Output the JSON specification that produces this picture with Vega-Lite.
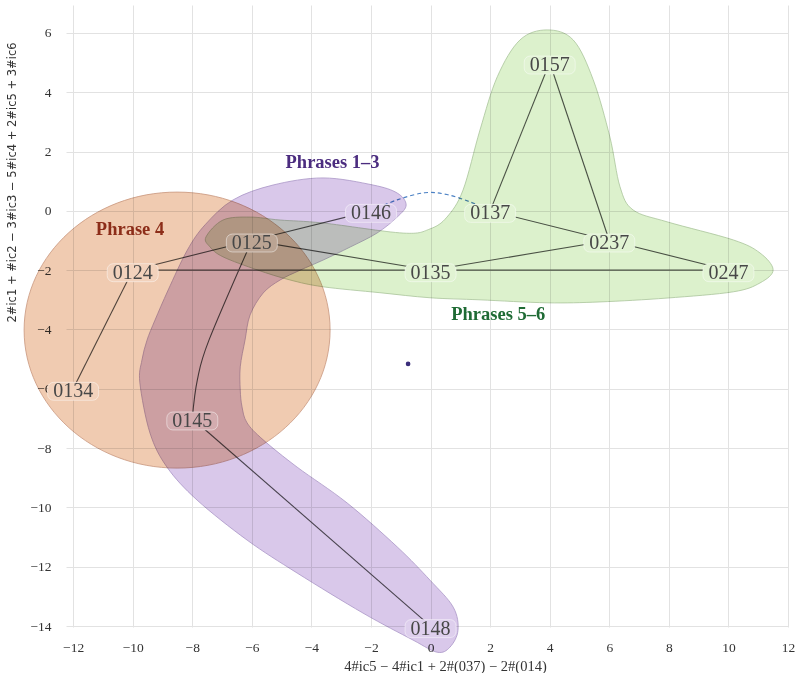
{
  "$schema": "https://vega.github.io/schema/vega-lite/v6.json",
  "width": 722,
  "height": 622,
  "autosize": {"type": "none"},
  "padding": {"left": 66, "top": 5, "right": 7, "bottom": 46},
  "background": "white",
  "config": {
    "view": {"stroke": null},
    "axis": {
      "labelFont": "Liberation Serif",
      "labelFontSize": 13.5,
      "labelColor": "#333333",
      "labelPadding": 15,
      "labelFlush": false,
      "ticks": false,
      "domain": false,
      "grid": true,
      "gridColor": "#e2e2e2",
      "gridWidth": 1,
      "titleColor": "#333333",
      "titleFontWeight": "normal"
    }
  },
  "datasets": {
    "nodes": [
      {"label": "0124", "x": -10, "y": -2},
      {"label": "0125", "x": -6, "y": -1},
      {"label": "0134", "x": -12, "y": -6},
      {"label": "0135", "x": 0, "y": -2},
      {"label": "0137", "x": 2, "y": 0},
      {"label": "0145", "x": -8, "y": -7},
      {"label": "0146", "x": -2, "y": 0},
      {"label": "0148", "x": 0, "y": -14},
      {"label": "0157", "x": 4, "y": 5},
      {"label": "0237", "x": 6, "y": -1},
      {"label": "0247", "x": 10, "y": -2}
    ],
    "edges": [
      {"e": "0124-0125", "o": 0, "x": -10, "y": -2}, {"e": "0124-0125", "o": 1, "x": -6, "y": -1},
      {"e": "0124-0135", "o": 0, "x": -10, "y": -2}, {"e": "0124-0135", "o": 1, "x": 0, "y": -2},
      {"e": "0124-0134", "o": 0, "x": -10, "y": -2}, {"e": "0124-0134", "o": 1, "x": -12, "y": -6},
      {"e": "0125-0146", "o": 0, "x": -6, "y": -1}, {"e": "0125-0146", "o": 1, "x": -2, "y": 0},
      {"e": "0125-0135", "o": 0, "x": -6, "y": -1}, {"e": "0125-0135", "o": 1, "x": 0, "y": -2},
      {"e": "0125-0145", "o": 0, "x": -6, "y": -1}, {"e": "0125-0145", "o": 1, "x": -7.44, "y": -4.36}, {"e": "0125-0145", "o": 2, "x": -7.83, "y": -5.7}, {"e": "0125-0145", "o": 3, "x": -8, "y": -7},
      {"e": "0145-0148", "o": 0, "x": -8, "y": -7}, {"e": "0145-0148", "o": 1, "x": 0, "y": -14},
      {"e": "0135-0237", "o": 0, "x": 0, "y": -2}, {"e": "0135-0237", "o": 1, "x": 6, "y": -1},
      {"e": "0135-0247", "o": 0, "x": 0, "y": -2}, {"e": "0135-0247", "o": 1, "x": 10, "y": -2},
      {"e": "0137-0237", "o": 0, "x": 2, "y": 0}, {"e": "0137-0237", "o": 1, "x": 6, "y": -1},
      {"e": "0137-0157", "o": 0, "x": 2, "y": 0}, {"e": "0137-0157", "o": 1, "x": 4, "y": 5},
      {"e": "0157-0237", "o": 0, "x": 4, "y": 5}, {"e": "0157-0237", "o": 1, "x": 6, "y": -1},
      {"e": "0237-0247", "o": 0, "x": 6, "y": -1}, {"e": "0237-0247", "o": 1, "x": 10, "y": -2}
    ],
    "arc": [
      {"o": 0, "x": -2, "y": 0},
      {"o": 1, "x": -1.12, "y": 0.37},
      {"o": 2, "x": -0.2, "y": 0.61},
      {"o": 3, "x": 0.55, "y": 0.55},
      {"o": 4, "x": 1.33, "y": 0.3},
      {"o": 5, "x": 2, "y": 0}
    ],
    "phrase4": [
      {"x": -8.51, "y": -4.02}
    ],
    "purple": [
      {"o": 1, "x": -6.63, "y": 0.37}, {"o": 2, "x": -5.29, "y": 0.87}, {"o": 3, "x": -3.61, "y": 1.11},
      {"o": 4, "x": -1.93, "y": 0.87}, {"o": 5, "x": -1.12, "y": 0.6}, {"o": 6, "x": -0.82, "y": 0.2},
      {"o": 7, "x": -1.12, "y": -0.21}, {"o": 8, "x": -1.8, "y": -0.75}, {"o": 9, "x": -2.7, "y": -1.22},
      {"o": 10, "x": -3.61, "y": -1.66}, {"o": 11, "x": -4.38, "y": -2.0}, {"o": 12, "x": -5.05, "y": -2.33},
      {"o": 13, "x": -5.62, "y": -2.77}, {"o": 14, "x": -6.06, "y": -3.51}, {"o": 15, "x": -6.23, "y": -4.36},
      {"o": 16, "x": -6.39, "y": -5.26}, {"o": 17, "x": -6.39, "y": -6.04}, {"o": 18, "x": -6.33, "y": -6.61},
      {"o": 19, "x": -6.16, "y": -7.15}, {"o": 20, "x": -5.62, "y": -7.72}, {"o": 21, "x": -4.48, "y": -8.64},
      {"o": 22, "x": -2.8, "y": -9.85}, {"o": 23, "x": -1.12, "y": -11.33}, {"o": 24, "x": -0.02, "y": -12.45},
      {"o": 25, "x": 0.76, "y": -13.36}, {"o": 26, "x": 0.92, "y": -14.14}, {"o": 27, "x": 0.65, "y": -14.71},
      {"o": 28, "x": 0.22, "y": -14.88}, {"o": 29, "x": -0.59, "y": -14.47}, {"o": 30, "x": -2.27, "y": -13.56},
      {"o": 31, "x": -4.48, "y": -12.21}, {"o": 32, "x": -6.16, "y": -11.1}, {"o": 33, "x": -7.84, "y": -9.75},
      {"o": 34, "x": -8.85, "y": -8.64}, {"o": 35, "x": -9.42, "y": -7.49}, {"o": 36, "x": -9.76, "y": -5.8},
      {"o": 37, "x": -9.69, "y": -5.03}, {"o": 38, "x": -9.52, "y": -4.36}, {"o": 39, "x": -9.25, "y": -3.68},
      {"o": 40, "x": -8.81, "y": -2.67}, {"o": 41, "x": -8.17, "y": -1.33}, {"o": 42, "x": -7.57, "y": -0.47}
    ],
    "green": [
      {"o": 1, "x": -7.54, "y": -0.88}, {"o": 2, "x": -6.97, "y": -0.31}, {"o": 3, "x": -6.06, "y": -0.21},
      {"o": 4, "x": -5.05, "y": -0.31}, {"o": 5, "x": -3.61, "y": -0.41}, {"o": 6, "x": -0.92, "y": -0.75},
      {"o": 7, "x": -0.02, "y": -0.61}, {"o": 8, "x": 0.55, "y": -0.21}, {"o": 9, "x": 1.09, "y": 0.7},
      {"o": 10, "x": 1.66, "y": 2.73}, {"o": 11, "x": 2.24, "y": 4.52}, {"o": 12, "x": 3.0, "y": 5.76},
      {"o": 13, "x": 3.91, "y": 6.1}, {"o": 14, "x": 4.79, "y": 5.76}, {"o": 15, "x": 5.46, "y": 4.42},
      {"o": 16, "x": 6.02, "y": 2.49}, {"o": 17, "x": 6.36, "y": 0.81}, {"o": 18, "x": 6.8, "y": 0.03},
      {"o": 19, "x": 7.94, "y": -0.37}, {"o": 20, "x": 10.16, "y": -0.98}, {"o": 21, "x": 11.06, "y": -1.42},
      {"o": 22, "x": 11.5, "y": -1.99}, {"o": 23, "x": 11.06, "y": -2.43}, {"o": 24, "x": 10.16, "y": -2.73},
      {"o": 25, "x": 7.94, "y": -2.94}, {"o": 26, "x": 5.69, "y": -3.07}, {"o": 27, "x": 3.91, "y": -3.1},
      {"o": 28, "x": 1.66, "y": -3.0}, {"o": 29, "x": -0.02, "y": -2.93}, {"o": 30, "x": -1.7, "y": -2.76},
      {"o": 31, "x": -3.61, "y": -2.56}, {"o": 32, "x": -4.72, "y": -2.33}, {"o": 33, "x": -5.82, "y": -1.99},
      {"o": 34, "x": -6.97, "y": -1.55}, {"o": 35, "x": -7.41, "y": -1.21}
    ],
    "titles": [
      {"region": "Phrase 4", "x": -10.09, "y": -0.61},
      {"region": "Phrases 1–3", "x": -3.29, "y": 1.65},
      {"region": "Phrases 5–6", "x": 2.27, "y": -3.48}
    ],
    "dot": [
      {"x": -0.755, "y": -5.16}
    ]
  },
  "encoding": {
    "x": {
      "field": "x",
      "type": "quantitative",
      "scale": {"domain": [-12.24, 12], "nice": false, "zero": false},
      "axis": {
        "values": [-12, -10, -8, -6, -4, -2, 0, 2, 4, 6, 8, 10, 12],
        "labelPadding": 13,
        "title": "4#ic5 − 4#ic1 + 2#(037) − 2#(014)",
        "titleFont": "Liberation Serif",
        "titleFontSize": 14.5,
        "titleX": 379,
        "titleY": 39,
        "titleBaseline": "middle",
        "titleAlign": "center"
      }
    },
    "y": {
      "field": "y",
      "type": "quantitative",
      "scale": {"domain": [-14.03, 6.94], "nice": false, "zero": false},
      "axis": {
        "values": [-14, -12, -10, -8, -6, -4, -2, 0, 2, 4, 6],
        "title": "2#ic1 + #ic2 − 3#ic3 − 5#ic4 + 2#ic5 + 3#ic6",
        "titleFont": "DejaVu Sans",
        "titleFontSize": 11.5,
        "titleAngle": 270,
        "titleX": -54,
        "titleY": 177,
        "titleBaseline": "middle",
        "titleAlign": "center"
      }
    }
  },
  "layer": [
    {
      "data": {"name": "edges"},
      "mark": {"type": "line", "color": "#555555", "strokeWidth": 1.1, "interpolate": "cardinal"},
      "encoding": {"detail": {"field": "e"}, "order": {"field": "o", "type": "quantitative"}}
    },
    {
      "data": {"name": "arc"},
      "mark": {"type": "line", "color": "#4a80c4", "strokeWidth": 1.2, "strokeDash": [4, 3], "interpolate": "cardinal"},
      "encoding": {"order": {"field": "o", "type": "quantitative"}}
    },
    {
      "data": {"name": "nodes"},
      "mark": {
        "type": "point",
        "shape": "M-0.765,-0.353L0.765,-0.353A0.235,0.235,0,0,1,1,-0.118L1,0.118A0.235,0.235,0,0,1,0.765,0.353L-0.765,0.353A0.235,0.235,0,0,1,-1,0.118L-1,-0.118A0.235,0.235,0,0,1,-0.765,-0.353Z",
        "size": 2601,
        "filled": true,
        "fill": "white",
        "opacity": 1,
        "strokeWidth": 0,
        "yOffset": 2.5
      }
    },
    {
      "data": {"name": "phrase4"},
      "mark": {
        "type": "point",
        "shape": "M-1,0A1,0.902,0,1,0,1,0A1,0.902,0,1,0,-1,0Z",
        "size": 93636,
        "filled": true,
        "fill": "#f0cbb1",
        "stroke": "#c8957c",
        "strokeWidth": 0.8,
        "opacity": 1,
        "blend": "multiply"
      }
    },
    {
      "data": {"name": "purple"},
      "mark": {
        "type": "line",
        "interpolate": "cardinal-closed",
        "fill": "#d9c8ea",
        "stroke": "#a996c6",
        "strokeWidth": 0.8,
        "blend": "multiply"
      },
      "encoding": {"order": {"field": "o", "type": "quantitative"}}
    },
    {
      "data": {"name": "green"},
      "mark": {
        "type": "line",
        "interpolate": "cardinal-closed",
        "fill": "#dcf1cc",
        "stroke": "#a9c49a",
        "strokeWidth": 0.8,
        "blend": "multiply"
      },
      "encoding": {"order": {"field": "o", "type": "quantitative"}}
    },
    {
      "data": {"name": "nodes"},
      "mark": {
        "type": "point",
        "shape": "M-0.765,-0.353L0.765,-0.353A0.235,0.235,0,0,1,1,-0.118L1,0.118A0.235,0.235,0,0,1,0.765,0.353L-0.765,0.353A0.235,0.235,0,0,1,-1,0.118L-1,-0.118A0.235,0.235,0,0,1,-0.765,-0.353Z",
        "size": 2601,
        "filled": true,
        "fill": "white",
        "fillOpacity": 0.14,
        "opacity": 1,
        "stroke": "white",
        "strokeOpacity": 0.45,
        "strokeWidth": 1,
        "yOffset": 2.5
      }
    },
    {
      "data": {"name": "nodes"},
      "mark": {
        "type": "text",
        "font": "Liberation Serif",
        "fontSize": 20,
        "color": "#474747",
        "align": "center",
        "baseline": "middle",
        "dy": 2.5
      },
      "encoding": {"text": {"field": "label"}}
    },
    {
      "data": {"name": "titles"},
      "mark": {
        "type": "text",
        "font": "Liberation Serif",
        "fontSize": 18.5,
        "fontWeight": "bold",
        "align": "center",
        "baseline": "middle"
      },
      "encoding": {
        "text": {"field": "region"},
        "color": {
          "field": "region",
          "type": "nominal",
          "scale": {"domain": ["Phrase 4", "Phrases 1–3", "Phrases 5–6"], "range": ["#8c2d19", "#4b2c7f", "#1f6b35"]},
          "legend": null
        }
      }
    },
    {
      "data": {"name": "dot"},
      "mark": {"type": "point", "shape": "circle", "filled": true, "color": "#3a2d7a", "size": 22, "opacity": 1}
    }
  ]
}
